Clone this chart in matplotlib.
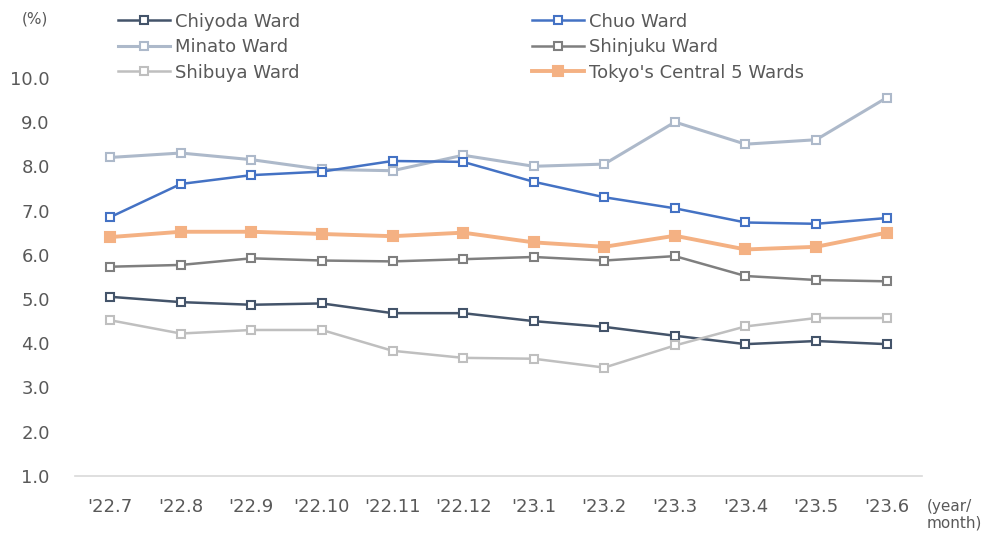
import matplotlib
matplotlib.use("Agg")
import matplotlib.pyplot as plt

months = ["'22.7", "'22.8", "'22.9", "'22.10", "'22.11", "'22.12",
          "'23.1", "'23.2", "'23.3", "'23.4", "'23.5", "'23.6"]

chiyoda = [5.05, 4.93, 4.87, 4.90, 4.68, 4.68, 4.50, 4.37, 4.17, 3.98, 4.05, 3.98]
chuo = [6.85, 7.60, 7.80, 7.88, 8.12, 8.10, 7.65, 7.30, 7.05, 6.73, 6.70, 6.83]
minato = [8.20, 8.30, 8.15, 7.93, 7.90, 8.25, 8.00, 8.05, 9.00, 8.50, 8.60, 9.55]
shinjuku = [5.73, 5.77, 5.92, 5.87, 5.85, 5.90, 5.95, 5.87, 5.97, 5.52, 5.43, 5.40]
shibuya = [4.52, 4.22, 4.30, 4.30, 3.83, 3.67, 3.65, 3.45, 3.95, 4.38, 4.57, 4.57]
central5 = [6.40, 6.52, 6.52, 6.47, 6.42, 6.50, 6.28, 6.18, 6.43, 6.12, 6.18, 6.50]

yticks = [1.0, 2.0, 3.0, 4.0, 5.0, 6.0, 7.0, 8.0, 9.0, 10.0]

text_color = "#595959"
plt.rcParams["font.family"] = ["DejaVu Sans"]

fig = plt.figure(figsize=(9.85, 5.33), dpi=100)
ax = fig.add_axes([0.076, 0.107, 0.860, 0.747])

x = list(range(len(months)))

series = [
    ("Chiyoda Ward", chiyoda, "#44546A", 1.8, False),
    ("Minato Ward", minato, "#ADB9CA", 2.2, False),
    ("Shibuya Ward", shibuya, "#BFBFBF", 1.8, False),
    ("Chuo Ward", chuo, "#4472C4", 1.8, False),
    ("Shinjuku Ward", shinjuku, "#7F7F7F", 1.8, False),
    ("Tokyo's Central 5 Wards", central5, "#F4B183", 2.8, True),
]

order_z = {"Tokyo's Central 5 Wards": 3}
for name, vals, color, lw, filled in series:
    ax.plot(x, vals, color=color, lw=lw, marker="s",
            markersize=7 if filled else 6,
            markerfacecolor=color if filled else "white",
            markeredgecolor=color, markeredgewidth=1.5,
            label=name, zorder=order_z.get(name, 2))

ax.set_xlim(-0.5, len(months) - 0.5)
ax.set_ylim(1.0, 10.0)
ax.set_yticks(yticks)
ax.set_yticklabels([f"{v:.1f}" for v in yticks])
ax.set_xticks(x)
ax.set_xticklabels(months)

for side in ["top", "right", "left"]:
    ax.spines[side].set_visible(False)
ax.spines["bottom"].set_color("#D9D9D9")
ax.spines["bottom"].set_linewidth(1.2)
ax.tick_params(axis="both", length=0, labelsize=13, colors=text_color)
ax.tick_params(axis="x", pad=16)
ax.tick_params(axis="y", pad=18)

fig.text(0.022, 0.965, "(%)", fontsize=11, color=text_color, ha="left", va="center")
fig.text(0.941, 0.034, "(year/\nmonth)", fontsize=11, color=text_color,
         ha="left", va="center", linespacing=1.1)

leg = fig.legend(loc="upper left", bbox_to_anchor=(0.112, 0.990), ncol=2,
                 frameon=False, fontsize=13, labelcolor=text_color,
                 handlelength=2.9, handletextpad=0.3, columnspacing=12.8,
                 labelspacing=0.42, borderaxespad=0)

fig.savefig("out.png", dpi=100)
